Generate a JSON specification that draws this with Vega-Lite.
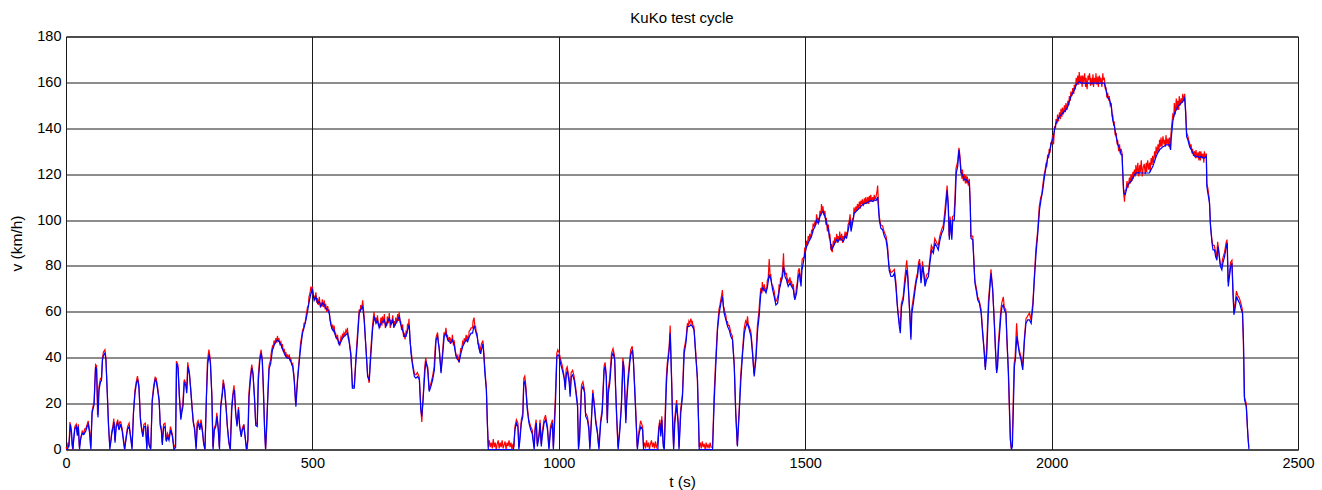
{
"$schema": "https://vega.github.io/schema/vega-lite/v6.json",
"width": 1232, "height": 413,
"autosize": {"type": "none"},
"padding": {"left": 66, "top": 36.5, "right": 24, "bottom": 40.5},
"background": "white",
"config": {"view": {"stroke": "#000", "strokeWidth": 1}, "font": "Liberation Sans"},
"title": {"text": "KuKo test cycle", "fontSize": 15, "fontWeight": "normal", "color": "#000", "offset": 3, "font": "Liberation Sans"},
"datasets": {
"blue": [
{"t":0,"v":0},{"t":3,"v":0},{"t":6,"v":2},{"t":9,"v":11},{"t":11,"v":8},{"t":14,"v":0},{"t":16,"v":5},{"t":18,"v":9},{"t":21,"v":10},{"t":23,"v":6},{"t":25,"v":10},{"t":27.5,"v":0},{"t":30,"v":5},{"t":33,"v":7},{"t":36,"v":6.5},{"t":40,"v":8},{"t":43,"v":10},{"t":45,"v":11},{"t":48,"v":7},{"t":50.5,"v":0},{"t":53,"v":16},{"t":57,"v":19.5},{"t":60,"v":36},{"t":62,"v":35},{"t":65,"v":14},{"t":67,"v":26},{"t":70,"v":29.5},{"t":72,"v":30},{"t":74,"v":39},{"t":76,"v":41},{"t":79,"v":42},{"t":81,"v":39},{"t":84,"v":23},{"t":86.5,"v":10},{"t":89,"v":0},{"t":93,"v":7},{"t":95,"v":9},{"t":97.5,"v":12},{"t":99.5,"v":3},{"t":102,"v":10},{"t":105,"v":11.5},{"t":107.5,"v":8.5},{"t":111,"v":11},{"t":114,"v":8},{"t":117,"v":3},{"t":119,"v":0},{"t":122.5,"v":5.5},{"t":125,"v":9},{"t":128,"v":10},{"t":131,"v":5.5},{"t":134,"v":0},{"t":137,"v":16},{"t":140,"v":24.5},{"t":143,"v":29},{"t":145.5,"v":30.5},{"t":148,"v":27},{"t":151,"v":13},{"t":153.5,"v":8.5},{"t":156,"v":5.5},{"t":158.5,"v":10},{"t":161.5,"v":10},{"t":164,"v":0},{"t":166,"v":10},{"t":168.5,"v":2},{"t":172,"v":0},{"t":175,"v":21},{"t":178,"v":26.5},{"t":181,"v":30.5},{"t":183.5,"v":29.5},{"t":186,"v":26},{"t":189,"v":21},{"t":191.5,"v":10},{"t":193.5,"v":8.5},{"t":195.5,"v":2},{"t":198,"v":9.5},{"t":201,"v":10},{"t":203.5,"v":3.5},{"t":206.5,"v":5.5},{"t":209,"v":4},{"t":212.5,"v":8.5},{"t":216,"v":5.5},{"t":219,"v":0},{"t":222.5,"v":1},{"t":224.5,"v":37.5},{"t":227.5,"v":35.5},{"t":230,"v":23},{"t":233,"v":13},{"t":235,"v":16},{"t":237.5,"v":19},{"t":240,"v":29},{"t":243,"v":28},{"t":245,"v":24.5},{"t":247.5,"v":36},{"t":250.5,"v":33},{"t":253,"v":26},{"t":256,"v":17.5},{"t":258.5,"v":11.5},{"t":261,"v":8.5},{"t":264,"v":0},{"t":266.5,"v":10},{"t":268.5,"v":11.5},{"t":271.5,"v":8.5},{"t":274,"v":11.5},{"t":277,"v":7.5},{"t":279.5,"v":2.5},{"t":282,"v":0},{"t":285,"v":23},{"t":287.5,"v":37},{"t":290.5,"v":41.5},{"t":293,"v":37.5},{"t":296,"v":23},{"t":298.5,"v":0},{"t":301,"v":8.5},{"t":304,"v":10},{"t":306.5,"v":14.5},{"t":309,"v":8.5},{"t":311.5,"v":0},{"t":314,"v":18.5},{"t":317,"v":23.5},{"t":319.5,"v":29},{"t":322,"v":25.5},{"t":325,"v":17.5},{"t":327.5,"v":10},{"t":331,"v":2.5},{"t":333.5,"v":0},{"t":336.5,"v":17.5},{"t":339,"v":24},{"t":342,"v":26},{"t":344.5,"v":15.5},{"t":347,"v":10},{"t":350,"v":17.5},{"t":352.5,"v":10},{"t":355.5,"v":5.5},{"t":358,"v":8.5},{"t":361,"v":10},{"t":363.5,"v":5.5},{"t":366,"v":0},{"t":369,"v":4},{"t":371.5,"v":23},{"t":374.5,"v":31},{"t":377,"v":35.5},{"t":379.5,"v":33},{"t":382.5,"v":23},{"t":385,"v":10.5},{"t":388,"v":10},{"t":390.5,"v":30.5},{"t":393.5,"v":39},{"t":396,"v":42},{"t":398.5,"v":38.5},{"t":400.5,"v":27.5},{"t":403,"v":8.5},{"t":405,"v":0},
{"t":409,"v":20},{"t":412,"v":35},{"t":415.5,"v":37.6},{"t":419,"v":43.5},{"t":422.5,"v":45.6},{"t":426,"v":47},{"t":429,"v":47.8},{"t":432.5,"v":47},{"t":436,"v":45.6},{"t":439,"v":44},{"t":443,"v":41.8},{"t":446,"v":40.5},{"t":449.5,"v":39.8},{"t":453,"v":39.8},{"t":456,"v":38.4},{"t":460,"v":36.2},{"t":463,"v":30.4},{"t":466.5,"v":18.7},{"t":470,"v":30.4},{"t":473,"v":37.6},{"t":476.5,"v":45},{"t":480,"v":50.7},{"t":483,"v":53},{"t":487,"v":56.5},{"t":490,"v":60},{"t":493.5,"v":64.5},{"t":497,"v":68},{"t":500,"v":69.6},{"t":503.5,"v":65},{"t":507,"v":66.7},{"t":510.5,"v":63.8},{"t":514,"v":64.5},{"t":517,"v":62.3},{"t":520.5,"v":63.8},{"t":524,"v":63},{"t":527,"v":61.6},{"t":531,"v":60.9},{"t":534,"v":59.4},{"t":537.5,"v":54.3},{"t":541,"v":52},{"t":544,"v":52},{"t":547.5,"v":49},{"t":551,"v":48.3},{"t":554.5,"v":45.6},{"t":558,"v":47},{"t":561,"v":48.5},{"t":564.5,"v":49.3},{"t":568,"v":50},{"t":571.5,"v":50.7},{"t":574.5,"v":47},{"t":578,"v":41},{"t":581.5,"v":26.7},{"t":585,"v":26.7},{"t":588,"v":37.6},{"t":591.5,"v":47.8},{"t":595,"v":59.4},{"t":598,"v":60.9},{"t":602,"v":62.3},{"t":605,"v":56.5},{"t":608.5,"v":45},{"t":612,"v":31.8},{"t":615.5,"v":30.4},{"t":618.5,"v":40.5},{"t":622,"v":52},{"t":625.5,"v":58},{"t":629,"v":55},{"t":632,"v":56.5},{"t":635.5,"v":53},{"t":639,"v":55},{"t":642.5,"v":55.7},{"t":646,"v":56.5},{"t":649,"v":53.6},{"t":652.5,"v":55.7},{"t":656,"v":57.2},{"t":659.5,"v":54.3},{"t":663,"v":56.5},{"t":666,"v":53.6},{"t":669.5,"v":55},{"t":673,"v":56.5},{"t":676.5,"v":58},{"t":679.5,"v":54.3},{"t":683,"v":52},{"t":686.5,"v":49.3},{"t":690,"v":49.3},{"t":693,"v":52},{"t":696.5,"v":54.3},{"t":700,"v":42},{"t":703.5,"v":36.2},{"t":707,"v":31.8},{"t":710,"v":31.1},{"t":713.5,"v":31.8},{"t":717,"v":30.4},{"t":720,"v":17.3},{"t":722,"v":14.4},{"t":725,"v":23},{"t":728.5,"v":34.7},{"t":730.5,"v":38.4},{"t":734,"v":34.7},{"t":737,"v":25.3},{"t":740.5,"v":27.5},{"t":744,"v":30.4},{"t":747.5,"v":34.7},{"t":751,"v":47.8},{"t":754,"v":49.3},{"t":757.5,"v":43.5},{"t":761,"v":33.3},{"t":764,"v":40.5},{"t":767.5,"v":49.3},{"t":771,"v":50.7},{"t":774.5,"v":47.8},{"t":778,"v":47},{"t":781,"v":46.4},{"t":784.5,"v":47.8},{"t":788,"v":45},{"t":791.5,"v":40.5},{"t":795,"v":39.1},{"t":798,"v":38.3},{"t":801.5,"v":42},{"t":805,"v":44.9},{"t":808.5,"v":46.4},{"t":812,"v":47.8},{"t":815,"v":47},{"t":818.5,"v":49.3},{"t":822,"v":50.7},{"t":825,"v":50.7},
{"t":828,"v":54},{"t":831.5,"v":51.5},{"t":834.5,"v":49},{"t":838,"v":44},{"t":841.5,"v":41.7},{"t":843.5,"v":44},{"t":846,"v":46},{"t":848,"v":40.5},{"t":850,"v":33.3},{"t":853,"v":26},{"t":855,"v":11.5},{"t":857,"v":0},{"t":880,"v":0},{"t":908,"v":0},{"t":911,"v":8.6},{"t":914,"v":11.5},{"t":917,"v":10},{"t":919,"v":0},{"t":921,"v":4},{"t":924,"v":11.5},{"t":927,"v":14.4},{"t":929,"v":29},{"t":931,"v":29.6},{"t":933,"v":26.5},{"t":936,"v":17.3},{"t":939.5,"v":11.5},{"t":943,"v":8.6},{"t":946,"v":7},{"t":950,"v":0},{"t":952,"v":8.6},{"t":954.5,"v":11.5},{"t":956.5,"v":1.3},{"t":960,"v":5.7},{"t":962,"v":11.5},{"t":964.5,"v":1.3},{"t":966.5,"v":5.7},{"t":970,"v":11.5},{"t":973.5,"v":13},{"t":977,"v":8.6},{"t":980,"v":0},{"t":983.5,"v":8.6},{"t":987,"v":11.5},{"t":989,"v":0},{"t":991.5,"v":11.5},{"t":993.5,"v":21.6},{"t":996,"v":40.5},{"t":998.5,"v":41.3},{"t":1001,"v":40.5},{"t":1004,"v":37},{"t":1007,"v":34.7},{"t":1011,"v":31},{"t":1013,"v":26},{"t":1015.5,"v":33.3},{"t":1017.5,"v":34},{"t":1021,"v":29.4},{"t":1023,"v":23},{"t":1025.5,"v":31.8},{"t":1028,"v":32.5},{"t":1031,"v":30.4},{"t":1034,"v":26},{"t":1038,"v":18.7},{"t":1040,"v":0},{"t":1042.5,"v":5.7},{"t":1046,"v":26},{"t":1049,"v":27.5},{"t":1052.5,"v":24.6},{"t":1054.5,"v":14.4},{"t":1058,"v":13},{"t":1061,"v":8.6},{"t":1063,"v":0},{"t":1066,"v":11.5},{"t":1069,"v":24.6},{"t":1071.5,"v":20.2},{"t":1075,"v":11.5},{"t":1078.5,"v":7},{"t":1081.5,"v":0},{"t":1085,"v":11.5},{"t":1088,"v":15.8},{"t":1092,"v":34.7},{"t":1094,"v":36.2},{"t":1096.5,"v":31.8},{"t":1098.5,"v":11.5},{"t":1100.5,"v":24.6},{"t":1103.5,"v":29},{"t":1105.5,"v":34.7},{"t":1107.5,"v":40.5},{"t":1110,"v":42},{"t":1113.5,"v":39.1},{"t":1115.5,"v":26},{"t":1117.5,"v":14.4},{"t":1120.5,"v":0},{"t":1124,"v":8.6},{"t":1127,"v":18.7},{"t":1130.5,"v":38.4},{"t":1132.5,"v":34.7},{"t":1136,"v":11.5},{"t":1138,"v":21.6},{"t":1140.5,"v":29},{"t":1144,"v":37.6},{"t":1146,"v":41.3},{"t":1149.5,"v":43.5},{"t":1151.5,"v":38.4},{"t":1154,"v":26},{"t":1157,"v":11.5},{"t":1159.5,"v":0},{"t":1163,"v":7},{"t":1166.5,"v":10},{"t":1170,"v":8.6},{"t":1172,"v":0},{"t":1190,"v":0},{"t":1201,"v":0},{"t":1203,"v":8.6},{"t":1205,"v":11.5},{"t":1207,"v":5.7},{"t":1209,"v":13},{"t":1212,"v":1.3},{"t":1214,"v":0},{"t":1216.5,"v":15.8},{"t":1218.5,"v":29},{"t":1220.5,"v":36.2},{"t":1224,"v":43.5},{"t":1226,"v":50.7},{"t":1229,"v":29},{"t":1231,"v":11.5},{"t":1233,"v":0},{"t":1235.5,"v":11.5},{"t":1239,"v":20},{"t":1242,"v":11.5},{"t":1244,"v":0},
{"t":1247.5,"v":15.8},{"t":1251,"v":23},{"t":1254.5,"v":42},{"t":1258,"v":46.4},{"t":1261,"v":53.6},{"t":1264.5,"v":53.6},{"t":1268,"v":54.3},{"t":1271.5,"v":53.6},{"t":1274.5,"v":52},{"t":1278,"v":40.5},{"t":1281.5,"v":30.4},{"t":1285,"v":0},{"t":1300,"v":0},{"t":1312,"v":0},{"t":1315.5,"v":21.6},{"t":1318.5,"v":36.2},{"t":1322,"v":52},{"t":1325.5,"v":59.4},{"t":1329,"v":63.8},{"t":1332,"v":66.7},{"t":1335.5,"v":59.4},{"t":1339,"v":56.5},{"t":1342.5,"v":53.6},{"t":1346,"v":52},{"t":1349,"v":49.3},{"t":1352.5,"v":47.8},{"t":1356,"v":36.2},{"t":1359,"v":15.8},{"t":1362.5,"v":1.3},{"t":1366,"v":15.8},{"t":1369.5,"v":30.4},{"t":1373,"v":42},{"t":1376.5,"v":50.7},{"t":1379.5,"v":53.6},{"t":1383,"v":55},{"t":1386.5,"v":52.2},{"t":1390,"v":49.3},{"t":1393,"v":42},{"t":1396.5,"v":31.8},{"t":1400,"v":39.1},{"t":1403.5,"v":52.2},{"t":1406.5,"v":58},{"t":1410,"v":68.3},{"t":1413.5,"v":70.4},{"t":1417,"v":69.6},{"t":1420.5,"v":68.3},{"t":1423.5,"v":71.1},{"t":1427,"v":76.2},{"t":1430.5,"v":74},{"t":1434,"v":69.6},{"t":1437,"v":66.7},{"t":1440.5,"v":63},{"t":1444,"v":63.8},{"t":1447.5,"v":69.6},{"t":1450.5,"v":72.5},{"t":1454,"v":75.4},{"t":1456,"v":79.8},{"t":1459,"v":75.4},{"t":1462,"v":74},{"t":1465.5,"v":71.1},{"t":1469,"v":72.5},{"t":1472.5,"v":71.1},{"t":1476,"v":69.6},{"t":1479,"v":65.2},{"t":1482.5,"v":68.1},{"t":1486,"v":75.4},{"t":1488.5,"v":76.9},{"t":1491.5,"v":71.1},{"t":1493.5,"v":78.3},{"t":1496,"v":81.2},{"t":1499.5,"v":85.6},{"t":1503,"v":88.5},{"t":1506,"v":90},{"t":1509.5,"v":91.4},{"t":1513,"v":93},{"t":1516.5,"v":95.8},{"t":1520,"v":97.2},{"t":1523,"v":100},{"t":1526.5,"v":98.5},{"t":1530,"v":101.5},{"t":1533,"v":103},{"t":1536.5,"v":103.7},{"t":1540,"v":101.5},{"t":1543.5,"v":98.5},{"t":1547,"v":95.8},{"t":1550.5,"v":91.4},{"t":1553.5,"v":87},{"t":1557,"v":88.5},{"t":1560.5,"v":90},{"t":1564,"v":91.4},{"t":1567,"v":90.7},{"t":1570.5,"v":92.2},{"t":1574,"v":91.4},{"t":1577.5,"v":90.7},{"t":1581,"v":92.9},{"t":1584,"v":92.2},{"t":1587.5,"v":95.8},{"t":1591,"v":100},{"t":1593,"v":95},{"t":1596,"v":98.5},{"t":1599.5,"v":103},{"t":1603,"v":103.7},{"t":1606.5,"v":104.5},{"t":1610,"v":105.2},{"t":1613,"v":106},{"t":1616.5,"v":106.7},{"t":1620,"v":107.1},{"t":1623.5,"v":107.4},{"t":1627,"v":107.7},{"t":1630,"v":108.1},{"t":1633.5,"v":108.5},{"t":1637,"v":108.1},{"t":1640.5,"v":108.8},{"t":1644,"v":108.5},{"t":1647,"v":110},
{"t":1650.5,"v":100},{"t":1653.5,"v":96.5},{"t":1657,"v":95.8},{"t":1660.5,"v":93},{"t":1664,"v":91.4},{"t":1667,"v":87},{"t":1670.5,"v":78},{"t":1674,"v":75.4},{"t":1677.5,"v":75.4},{"t":1681,"v":76.9},{"t":1684,"v":71.1},{"t":1687.5,"v":61},{"t":1691,"v":53.6},{"t":1693,"v":50.7},{"t":1695.5,"v":62.3},{"t":1699,"v":65.2},{"t":1702.5,"v":72.5},{"t":1706,"v":78.3},{"t":1708,"v":75.4},{"t":1711.5,"v":62.3},{"t":1713.5,"v":53.6},{"t":1714.5,"v":47.8},{"t":1716.5,"v":59.4},{"t":1719.5,"v":63.8},{"t":1723,"v":69.6},{"t":1726,"v":74},{"t":1728,"v":75.4},{"t":1730,"v":79.8},{"t":1732.5,"v":81.2},{"t":1735,"v":72.5},{"t":1738.5,"v":79.8},{"t":1740.5,"v":76.9},{"t":1743,"v":71.1},{"t":1746.5,"v":74},{"t":1750,"v":75.4},{"t":1753,"v":81.2},{"t":1756.5,"v":87},{"t":1760,"v":85.6},{"t":1763.5,"v":89.9},{"t":1767,"v":88.5},{"t":1770,"v":87},{"t":1773.5,"v":91.4},{"t":1777,"v":94.3},{"t":1780.5,"v":95.8},{"t":1783.5,"v":101.5},{"t":1785.5,"v":106},{"t":1788,"v":113},{"t":1790.5,"v":106},{"t":1792.5,"v":91.4},{"t":1794.5,"v":100},{"t":1797.5,"v":91.4},{"t":1799.5,"v":100},{"t":1802.5,"v":100},{"t":1804.5,"v":108.8},{"t":1806.5,"v":120.5},{"t":1809.5,"v":123.4},{"t":1812,"v":130.6},{"t":1814,"v":126.3},{"t":1816,"v":120.5},{"t":1819.5,"v":119.7},{"t":1823,"v":117.6},{"t":1826.5,"v":117.6},{"t":1829.5,"v":116.9},{"t":1833,"v":116.2},{"t":1835,"v":106},{"t":1836.5,"v":92},{"t":1840,"v":91.4},{"t":1842,"v":82.7},{"t":1844.5,"v":72.5},{"t":1848,"v":68.1},{"t":1850,"v":65.2},{"t":1853.5,"v":63.8},{"t":1857,"v":59.4},{"t":1860,"v":50.7},{"t":1863.5,"v":42},{"t":1865.5,"v":34.7},{"t":1868.5,"v":42},{"t":1870.5,"v":53.6},{"t":1872.5,"v":63.8},{"t":1875,"v":71.1},{"t":1877,"v":76.8},{"t":1880.5,"v":69.6},{"t":1884,"v":53.6},{"t":1886.5,"v":42},{"t":1888.5,"v":33.3},{"t":1890.5,"v":36.2},{"t":1892.5,"v":44.9},{"t":1895.5,"v":53.6},{"t":1897.5,"v":59.4},{"t":1899.5,"v":62.3},{"t":1902,"v":63},{"t":1904,"v":60.9},{"t":1907.5,"v":59.4},{"t":1909.5,"v":47.8},{"t":1912.5,"v":33.3},{"t":1914.5,"v":18.7},{"t":1916.5,"v":4.2},{"t":1918.5,"v":0},{"t":1920.5,"v":1.3},{"t":1922.5,"v":18.7},{"t":1924.5,"v":36.2},{"t":1926.5,"v":39.1},{"t":1929.5,"v":49.3},{"t":1931.5,"v":46.4},{"t":1934.5,"v":42},{"t":1938,"v":39.1},{"t":1941.5,"v":34.7},{"t":1945,"v":47.8},{"t":1948,"v":55},{"t":1951.5,"v":56.5},{"t":1955,"v":56.5},{"t":1958.5,"v":55},{"t":1962,"v":62.3},{"t":1965,"v":74},{"t":1968.5,"v":85.6},{"t":1972,"v":94.3},{"t":1975.5,"v":104.5},{"t":1978.5,"v":108.8},{"t":1982,"v":113},{"t":1985.5,"v":118.8},{"t":1989,"v":123.4},{"t":1992,"v":127},{"t":1995.5,"v":129.2},{"t":1999,"v":133.5},
{"t":2002.5,"v":135.3},{"t":2006,"v":139.3},{"t":2009,"v":142.3},{"t":2012.5,"v":143.7},{"t":2016,"v":145.2},{"t":2019.5,"v":145.9},{"t":2022.5,"v":146.6},{"t":2026,"v":147.4},{"t":2029.5,"v":148.1},{"t":2033,"v":149.5},{"t":2036,"v":151.7},{"t":2039.5,"v":154},{"t":2043,"v":155.4},{"t":2046.5,"v":156.8},{"t":2050,"v":159},{"t":2053,"v":159.7},{"t":2056.5,"v":160.4},{"t":2060,"v":159.7},{"t":2070,"v":159.7},{"t":2080,"v":159.7},{"t":2090,"v":159.7},{"t":2100,"v":159.7},{"t":2107,"v":159.7},{"t":2110.5,"v":156.8},{"t":2114,"v":153.2},{"t":2117.5,"v":152.5},{"t":2121,"v":149.5},{"t":2124,"v":143.7},{"t":2127.5,"v":140.8},{"t":2131,"v":136.4},{"t":2134.5,"v":132.8},{"t":2138,"v":131.3},{"t":2141,"v":128.5},{"t":2143,"v":128.5},{"t":2144.5,"v":120.5},{"t":2146.5,"v":111.8},{"t":2149.5,"v":111.1},{"t":2153.5,"v":114.7},{"t":2158,"v":116.2},{"t":2161.5,"v":116.9},{"t":2165,"v":118.3},{"t":2168,"v":119.7},{"t":2171.5,"v":120.5},{"t":2175,"v":120.7},{"t":2182,"v":120.5},{"t":2188.5,"v":120.5},{"t":2195,"v":120.5},{"t":2198.5,"v":120.5},{"t":2202,"v":122},{"t":2205.5,"v":123.4},{"t":2209,"v":125.6},{"t":2212,"v":127.7},{"t":2215.5,"v":129.2},{"t":2219,"v":130.6},{"t":2222.5,"v":131.3},{"t":2226,"v":132},{"t":2229,"v":132.3},{"t":2232.5,"v":132.8},{"t":2236,"v":132.8},{"t":2239.5,"v":132.8},{"t":2241.5,"v":130.6},{"t":2242.5,"v":135},{"t":2246,"v":143},{"t":2249.5,"v":146.6},{"t":2253,"v":148.1},{"t":2256,"v":149.5},{"t":2259.5,"v":150.2},{"t":2263,"v":151},{"t":2266.5,"v":151.7},{"t":2270,"v":153.2},{"t":2272,"v":146.6},{"t":2274,"v":136.4},{"t":2276.5,"v":135},{"t":2280,"v":132},{"t":2283.5,"v":130.6},{"t":2286.5,"v":129.2},{"t":2290,"v":127.8},{"t":2293.5,"v":127.8},{"t":2297,"v":127.8},{"t":2300,"v":127.1},{"t":2303.5,"v":127.8},{"t":2307,"v":127.1},{"t":2310.5,"v":127.1},{"t":2314,"v":127.8},{"t":2315,"v":114.7},{"t":2317,"v":111.8},{"t":2320.5,"v":107.4},{"t":2322.5,"v":97.2},{"t":2325.5,"v":90},{"t":2327.5,"v":87},{"t":2330.5,"v":87},{"t":2333,"v":84},{"t":2335.5,"v":82.5},{"t":2337.5,"v":88.5},{"t":2339.5,"v":85.6},{"t":2342.5,"v":79.8},{"t":2345.5,"v":78.3},{"t":2347.5,"v":81.2},{"t":2351,"v":84.1},{"t":2354.5,"v":88.5},{"t":2356.5,"v":90},{"t":2358.5,"v":71.1},{"t":2361,"v":75.5},{"t":2363.5,"v":79.8},{"t":2366,"v":81.2},{"t":2368,"v":68.1},{"t":2370,"v":58.7},{"t":2372.5,"v":61.6},{"t":2375.5,"v":66.7},{"t":2378,"v":65.2},{"t":2381.5,"v":63.8},{"t":2385,"v":61},{"t":2387.5,"v":59.4},{"t":2389.5,"v":46.4},{"t":2391.5,"v":21.7},{"t":2395,"v":18.7},{"t":2398.5,"v":5.7},{"t":2400.5,"v":0}
],
"red": [
{"t":0,"v":1},{"t":2,"v":0},{"t":4,"v":3},{"t":6,"v":1},{"t":8,"v":12},{"t":10,"v":9},{"t":12,"v":2},{"t":14,"v":0},{"t":16,"v":6},{"t":18,"v":10},{"t":21,"v":11},{"t":23,"v":7},{"t":25,"v":11},{"t":27,"v":1},{"t":29,"v":4},{"t":31,"v":6},{"t":33,"v":8},{"t":36,"v":7},{"t":38,"v":9},{"t":40,"v":9},{"t":43,"v":11},{"t":45,"v":12.5},{"t":48,"v":8},{"t":50,"v":1},{"t":53,"v":17},{"t":57,"v":21},{"t":60,"v":37},{"t":62,"v":36.5},{"t":64,"v":15},{"t":67,"v":27.5},{"t":70,"v":31},{"t":72,"v":31},{"t":74,"v":40},{"t":76,"v":42.5},{"t":79,"v":43.5},{"t":81,"v":40},{"t":84,"v":24},{"t":86,"v":11},{"t":89,"v":1},{"t":91,"v":4},{"t":93,"v":8},{"t":95,"v":10},{"t":97,"v":13.5},{"t":99,"v":4},{"t":102,"v":11},{"t":105,"v":13},{"t":107,"v":9},{"t":109,"v":12},{"t":111,"v":12},{"t":114,"v":9},{"t":117,"v":4},{"t":119,"v":0},{"t":121,"v":4},{"t":123,"v":7},{"t":125,"v":10},{"t":128,"v":11.5},{"t":131,"v":6},{"t":134,"v":1},{"t":137,"v":17},{"t":140,"v":26},{"t":143,"v":30},{"t":145,"v":32},{"t":148,"v":28},{"t":151,"v":14},{"t":153,"v":10},{"t":156,"v":6.5},{"t":158,"v":11},{"t":161,"v":11.5},{"t":164,"v":1},{"t":166,"v":11},{"t":168,"v":3},{"t":170,"v":1},{"t":172,"v":1},{"t":175,"v":22},{"t":178,"v":28},{"t":181,"v":31.5},{"t":183,"v":31},{"t":186,"v":27},{"t":189,"v":22},{"t":191,"v":11},{"t":193,"v":10},{"t":195,"v":3},{"t":198,"v":11},{"t":201,"v":11.5},{"t":203,"v":4},{"t":206,"v":7},{"t":209,"v":5},{"t":212,"v":10},{"t":216,"v":6.5},{"t":219,"v":1},{"t":222,"v":2},{"t":224,"v":38.5},{"t":227,"v":37},{"t":230,"v":24},{"t":233,"v":14},{"t":235,"v":17.5},{"t":237,"v":20},{"t":240,"v":30.5},{"t":243,"v":29},{"t":245,"v":26},{"t":247,"v":38},{"t":250,"v":34},{"t":253,"v":27},{"t":256,"v":18.5},{"t":258,"v":12.5},{"t":261,"v":9.5},{"t":264,"v":1},{"t":266,"v":11.5},{"t":268,"v":12.5},{"t":271,"v":9.5},{"t":274,"v":13},{"t":277,"v":8.5},{"t":279,"v":3},{"t":282,"v":0},{"t":285,"v":24},{"t":287,"v":38.5},{"t":290,"v":43.5},{"t":293,"v":39},{"t":296,"v":24},{"t":298,"v":1},{"t":301,"v":9.5},{"t":304,"v":11},{"t":306,"v":16},{"t":309,"v":9.5},{"t":311,"v":1},{"t":314,"v":19.5},{"t":317,"v":25},{"t":319,"v":30.5},{"t":322,"v":26.5},{"t":325,"v":18.5},{"t":327,"v":11},{"t":330,"v":3.5},{"t":333,"v":0},{"t":336,"v":18.5},{"t":339,"v":25},{"t":341,"v":28},{"t":344,"v":16.5},{"t":347,"v":11},{"t":350,"v":18.5},{"t":352,"v":11},{"t":355,"v":6.5},{"t":358,"v":9.5},{"t":361,"v":11},{"t":363,"v":6.5},{"t":366,"v":1},{"t":368,"v":0},{"t":369,"v":4.5},{"t":371,"v":24},{"t":374,"v":32},{"t":377,"v":37},{"t":379,"v":34},{"t":382,"v":24},{"t":385,"v":11.5},{"t":388,"v":11},{"t":390,"v":31.5},{"t":393,"v":40},{"t":396,"v":43.5},{"t":398,"v":39.5},{"t":400,"v":28.5},{"t":403,"v":9.5},{"t":405,"v":0},
{"t":407,"v":8},{"t":409,"v":21},{"t":412,"v":36.5},{"t":415,"v":39},{"t":417,"v":43},{"t":419,"v":45},{"t":421,"v":44},{"t":422,"v":47.5},{"t":424,"v":46},{"t":426,"v":48.5},{"t":428,"v":46.5},{"t":429,"v":49.5},{"t":431,"v":47},{"t":432,"v":48.5},{"t":434,"v":46},{"t":436,"v":47},{"t":438,"v":44},{"t":439,"v":46},{"t":441,"v":43},{"t":443,"v":43.5},{"t":445,"v":41},{"t":446,"v":42.5},{"t":448,"v":40},{"t":449,"v":41.5},{"t":451,"v":39.5},{"t":453,"v":41.5},{"t":455,"v":38.5},{"t":456,"v":40},{"t":458,"v":37},{"t":460,"v":37.5},{"t":463,"v":31.5},{"t":466,"v":19.5},{"t":470,"v":31.5},{"t":473,"v":39},{"t":476,"v":46.5},{"t":478,"v":49},{"t":480,"v":52},{"t":482,"v":53},{"t":483,"v":55},{"t":485,"v":55},{"t":487,"v":58},{"t":490,"v":62},{"t":492,"v":63},{"t":493,"v":66.5},{"t":495,"v":68},{"t":497,"v":71},{"t":499,"v":68},{"t":500,"v":71},{"t":502,"v":67},{"t":503,"v":67},{"t":505,"v":65},{"t":507,"v":68.5},{"t":509,"v":64},{"t":510,"v":66},{"t":512,"v":63},{"t":514,"v":66.5},{"t":516,"v":62},{"t":517,"v":64},{"t":519,"v":62.5},{"t":520,"v":65.5},{"t":522,"v":62},{"t":524,"v":65},{"t":526,"v":61},{"t":527,"v":63.5},{"t":529,"v":60},{"t":531,"v":62.5},{"t":533,"v":60},{"t":534,"v":61},{"t":536,"v":56},{"t":537,"v":56},{"t":539,"v":53},{"t":541,"v":54},{"t":543,"v":51},{"t":544,"v":54},{"t":546,"v":50},{"t":547,"v":51},{"t":549,"v":48},{"t":551,"v":50},{"t":553,"v":46},{"t":554,"v":47},{"t":556,"v":46},{"t":558,"v":49},{"t":560,"v":48},{"t":561,"v":50.5},{"t":563,"v":49},{"t":564,"v":51},{"t":566,"v":50},{"t":568,"v":52},{"t":570,"v":51},{"t":571,"v":53},{"t":573,"v":48},{"t":574,"v":48.5},{"t":578,"v":42},{"t":581,"v":27},{"t":585,"v":28},{"t":588,"v":39},{"t":591,"v":49},{"t":593,"v":55},{"t":595,"v":61},{"t":597,"v":60},{"t":598,"v":63},{"t":600,"v":61},{"t":602,"v":65},{"t":604,"v":60},{"t":605,"v":58},{"t":608,"v":46},{"t":612,"v":33},{"t":615,"v":29},{"t":618,"v":42},{"t":622,"v":54},{"t":624,"v":58},{"t":625,"v":60},{"t":627,"v":56},{"t":629,"v":57.5},{"t":631,"v":55},{"t":632,"v":58.5},{"t":634,"v":54},{"t":635,"v":55},{"t":637,"v":53},{"t":639,"v":57.5},{"t":641,"v":54},{"t":642,"v":58},{"t":644,"v":55},{"t":646,"v":59},{"t":648,"v":53},{"t":649,"v":55.5},{"t":651,"v":54},{"t":652,"v":58},{"t":654,"v":55},{"t":656,"v":59.5},{"t":658,"v":53},{"t":659,"v":56.5},{"t":661,"v":55},{"t":663,"v":58.5},{"t":665,"v":53},{"t":666,"v":56},{"t":668,"v":54},{"t":669,"v":57.5},{"t":671,"v":55},{"t":673,"v":59},{"t":675,"v":56},{"t":676,"v":60},{"t":678,"v":55},{"t":679,"v":56},{"t":681,"v":52},{"t":683,"v":54.5},{"t":685,"v":49},{"t":686,"v":51},{"t":688,"v":48},{"t":690,"v":51.5},{"t":692,"v":51},{"t":693,"v":54.5},{"t":695,"v":54},{"t":696,"v":57},{"t":698,"v":47},{"t":700,"v":44},{"t":703,"v":38},{"t":707,"v":33},{"t":710,"v":32.5},{"t":713,"v":33.5},{"t":717,"v":31.5},{"t":720,"v":18},{"t":722,"v":12},{"t":725,"v":24},{"t":728,"v":36},{"t":730,"v":40},{"t":732,"v":37},{"t":734,"v":36},{"t":737,"v":26},{"t":740,"v":28.5},{"t":744,"v":32},{"t":747,"v":36},{"t":749,"v":44},{"t":751,"v":49},{"t":754,"v":51},{"t":756,"v":46},{"t":757,"v":45},{"t":761,"v":34},{"t":764,"v":42},{"t":766,"v":48},{"t":767,"v":51},{"t":769,"v":50},{"t":771,"v":53},{"t":773,"v":49},{"t":774,"v":50},{"t":776,"v":47},{"t":778,"v":49},{"t":780,"v":46},{"t":781,"v":48},{"t":783,"v":47},{"t":784,"v":50},{"t":786,"v":46},{"t":788,"v":47},{"t":790,"v":43},{"t":791,"v":42},{"t":793,"v":40},{"t":795,"v":41},{"t":797,"v":38},{"t":798,"v":40},{"t":800,"v":42},{"t":801,"v":44},{"t":803,"v":44},{"t":805,"v":47},{"t":807,"v":46},{"t":808,"v":48.5},{"t":810,"v":47},{"t":812,"v":50},{"t":814,"v":47},{"t":815,"v":49},{"t":817,"v":48},{"t":818,"v":51.5},{"t":820,"v":52},{"t":822,"v":53},{"t":825,"v":53},
{"t":826,"v":56},{"t":828,"v":57.5},{"t":830,"v":53},{"t":831,"v":54},{"t":833,"v":50},{"t":834,"v":51},{"t":836,"v":46},{"t":838,"v":46},{"t":840,"v":42},{"t":841,"v":44},{"t":843,"v":46},{"t":846,"v":47.5},{"t":848,"v":42},{"t":850,"v":35},{"t":853,"v":27},{"t":855,"v":12},{"t":857,"v":1},{"t":859,"v":4},{"t":861,"v":1},{"t":863,"v":3},{"t":865,"v":0.5},{"t":867,"v":4.5},{"t":869,"v":1},{"t":871,"v":3},{"t":873,"v":0},{"t":875,"v":2.5},{"t":877,"v":4},{"t":879,"v":0.5},{"t":881,"v":3},{"t":883,"v":1},{"t":885,"v":4},{"t":887,"v":0.5},{"t":889,"v":2},{"t":891,"v":3.5},{"t":893,"v":0},{"t":895,"v":3},{"t":897,"v":1.5},{"t":899,"v":4},{"t":901,"v":1},{"t":903,"v":3},{"t":905,"v":0},{"t":907,"v":2.5},{"t":909,"v":1},{"t":911,"v":10},{"t":914,"v":13},{"t":917,"v":11.5},{"t":919,"v":1},{"t":921,"v":5.5},{"t":924,"v":13},{"t":927,"v":16},{"t":929,"v":31},{"t":931,"v":32},{"t":933,"v":28},{"t":936,"v":19},{"t":939,"v":13},{"t":943,"v":10},{"t":946,"v":8.5},{"t":950,"v":1},{"t":952,"v":10},{"t":954,"v":13},{"t":956,"v":2.5},{"t":960,"v":7},{"t":962,"v":13},{"t":964,"v":2.5},{"t":966,"v":7},{"t":970,"v":13},{"t":973,"v":15},{"t":977,"v":10},{"t":980,"v":1},{"t":983,"v":10},{"t":987,"v":13},{"t":989,"v":1},{"t":991,"v":13},{"t":993,"v":23},{"t":996,"v":42},{"t":998,"v":43.5},{"t":1001,"v":42},{"t":1004,"v":39},{"t":1007,"v":36.5},{"t":1010,"v":33},{"t":1013,"v":27.5},{"t":1015,"v":35},{"t":1017,"v":36},{"t":1021,"v":31},{"t":1023,"v":24.5},{"t":1025,"v":33.5},{"t":1028,"v":34.5},{"t":1031,"v":32},{"t":1034,"v":27.5},{"t":1038,"v":20},{"t":1040,"v":1},{"t":1042,"v":7},{"t":1046,"v":28},{"t":1049,"v":29.5},{"t":1052,"v":26},{"t":1054,"v":16},{"t":1058,"v":14.5},{"t":1061,"v":10},{"t":1063,"v":1},{"t":1066,"v":13},{"t":1069,"v":26},{"t":1071,"v":22},{"t":1075,"v":13},{"t":1078,"v":8.5},{"t":1081,"v":1},{"t":1085,"v":13},{"t":1088,"v":17.5},{"t":1092,"v":36.5},{"t":1094,"v":38},{"t":1096,"v":33},{"t":1098,"v":13},{"t":1100,"v":26},{"t":1103,"v":30.5},{"t":1105,"v":36.5},{"t":1107,"v":42},{"t":1110,"v":44},{"t":1113,"v":41},{"t":1115,"v":27.5},{"t":1117,"v":16},{"t":1120,"v":1},{"t":1124,"v":10},{"t":1127,"v":20},{"t":1130,"v":40},{"t":1132,"v":36.5},{"t":1136,"v":13},{"t":1138,"v":23},{"t":1140,"v":30.5},{"t":1144,"v":39.5},{"t":1146,"v":43.5},{"t":1149,"v":45},{"t":1151,"v":40},{"t":1154,"v":27.5},{"t":1157,"v":13},{"t":1159,"v":1},{"t":1163,"v":8.5},{"t":1166,"v":12.5},{"t":1170,"v":10},{"t":1172,"v":1},{"t":1174,"v":3},{"t":1176,"v":0.5},{"t":1178,"v":4},{"t":1180,"v":1},{"t":1182,"v":3},{"t":1184,"v":0},{"t":1186,"v":2.5},{"t":1188,"v":4},{"t":1190,"v":1},{"t":1192,"v":3},{"t":1194,"v":0.5},{"t":1196,"v":3.5},{"t":1198,"v":1},{"t":1200,"v":2},{"t":1203,"v":10},{"t":1205,"v":13},{"t":1207,"v":7},{"t":1209,"v":14.5},{"t":1212,"v":2.5},{"t":1214,"v":1},{"t":1216,"v":17},{"t":1218,"v":30.5},{"t":1220,"v":37.5},{"t":1224,"v":45},{"t":1226,"v":54},{"t":1229,"v":31},{"t":1231,"v":13},{"t":1233,"v":1},{"t":1235,"v":13},{"t":1239,"v":21.5},{"t":1242,"v":13},{"t":1244,"v":1},
{"t":1247,"v":17},{"t":1251,"v":24.5},{"t":1254,"v":43.5},{"t":1258,"v":48},{"t":1261,"v":55},{"t":1263,"v":54},{"t":1264,"v":56},{"t":1266,"v":55},{"t":1268,"v":57},{"t":1270,"v":55},{"t":1271,"v":55.5},{"t":1273,"v":53},{"t":1274,"v":54},{"t":1278,"v":42},{"t":1281,"v":31.5},{"t":1285,"v":1},{"t":1287,"v":3},{"t":1289,"v":0.5},{"t":1291,"v":3.5},{"t":1293,"v":1},{"t":1295,"v":2.5},{"t":1297,"v":0},{"t":1299,"v":3},{"t":1301,"v":1},{"t":1303,"v":2},{"t":1305,"v":0.5},{"t":1307,"v":3},{"t":1309,"v":1},{"t":1312,"v":1},{"t":1315,"v":23},{"t":1318,"v":37.5},{"t":1322,"v":53.5},{"t":1325,"v":61},{"t":1327,"v":63},{"t":1329,"v":65.5},{"t":1331,"v":68},{"t":1332,"v":69.5},{"t":1334,"v":62},{"t":1335,"v":62},{"t":1337,"v":60},{"t":1339,"v":58.5},{"t":1341,"v":55},{"t":1342,"v":56},{"t":1344,"v":54},{"t":1346,"v":54},{"t":1349,"v":51},{"t":1352,"v":49.5},{"t":1356,"v":37.5},{"t":1359,"v":17},{"t":1362,"v":2},{"t":1366,"v":17},{"t":1369,"v":32},{"t":1373,"v":43.5},{"t":1376,"v":52.5},{"t":1378,"v":55},{"t":1379,"v":56},{"t":1381,"v":55},{"t":1383,"v":58},{"t":1385,"v":53},{"t":1386,"v":54},{"t":1390,"v":51},{"t":1393,"v":43.5},{"t":1396,"v":33},{"t":1400,"v":41},{"t":1403,"v":54},{"t":1406,"v":60},{"t":1408,"v":66},{"t":1410,"v":70.5},{"t":1412,"v":68},{"t":1413,"v":73},{"t":1415,"v":69},{"t":1417,"v":72},{"t":1419,"v":69},{"t":1420,"v":70},{"t":1422,"v":70},{"t":1423,"v":73.5},{"t":1425,"v":75},{"t":1427,"v":83},{"t":1429,"v":75},{"t":1430,"v":76.5},{"t":1432,"v":72},{"t":1434,"v":71.5},{"t":1437,"v":69},{"t":1440,"v":64.5},{"t":1442,"v":65},{"t":1444,"v":66.5},{"t":1446,"v":68},{"t":1447,"v":72},{"t":1449,"v":71},{"t":1450,"v":74.5},{"t":1452,"v":74},{"t":1454,"v":78},{"t":1456,"v":85.5},{"t":1457,"v":79},{"t":1459,"v":77.5},{"t":1461,"v":76},{"t":1462,"v":77},{"t":1464,"v":72},{"t":1465,"v":74},{"t":1467,"v":73},{"t":1469,"v":75},{"t":1471,"v":72},{"t":1472,"v":73.5},{"t":1474,"v":71},{"t":1476,"v":72},{"t":1478,"v":66},{"t":1479,"v":67},{"t":1481,"v":68},{"t":1482,"v":70.5},{"t":1484,"v":73},{"t":1486,"v":78},{"t":1488,"v":79},{"t":1490,"v":73},{"t":1491,"v":73},{"t":1493,"v":80.5},{"t":1494,"v":83},{"t":1496,"v":83.5},{"t":1498,"v":84},{"t":1499,"v":88},{"t":1501,"v":87},{"t":1503,"v":91},{"t":1505,"v":89},{"t":1506,"v":93},{"t":1508,"v":91},{"t":1509,"v":94},{"t":1511,"v":92},{"t":1513,"v":95.5},{"t":1515,"v":95},{"t":1516,"v":98.5},{"t":1518,"v":97},{"t":1520,"v":99.5},{"t":1522,"v":98},{"t":1523,"v":102.5},{"t":1525,"v":100},{"t":1526,"v":101},{"t":1528,"v":99},{"t":1530,"v":104},{"t":1532,"v":102},{"t":1533,"v":107},{"t":1535,"v":103},{"t":1536,"v":106},{"t":1538,"v":102},{"t":1540,"v":104},{"t":1542,"v":98},{"t":1543,"v":101},{"t":1545,"v":95},{"t":1547,"v":98},{"t":1549,"v":92},{"t":1550,"v":94},{"t":1552,"v":87},{"t":1553,"v":89.5},{"t":1555,"v":86},{"t":1557,"v":91},{"t":1559,"v":89},{"t":1560,"v":92.5},{"t":1562,"v":90},{"t":1564,"v":94},{"t":1566,"v":90},{"t":1567,"v":93},{"t":1569,"v":91},{"t":1570,"v":95},{"t":1572,"v":91},{"t":1574,"v":94},{"t":1576,"v":90},{"t":1577,"v":93},{"t":1579,"v":92},{"t":1581,"v":95},{"t":1583,"v":92},{"t":1584,"v":94.5},{"t":1586,"v":95},{"t":1587,"v":98},{"t":1589,"v":99},{"t":1591,"v":102.5},{"t":1593,"v":97},{"t":1596,"v":100.5},{"t":1598,"v":101},{"t":1599,"v":105.5},{"t":1601,"v":103},{"t":1603,"v":106},{"t":1605,"v":104},{"t":1606,"v":107},{"t":1608,"v":105},{"t":1610,"v":108},{"t":1612,"v":105},{"t":1613,"v":108.5},{"t":1615,"v":107},{"t":1616,"v":109},{"t":1618,"v":106},{"t":1620,"v":109.5},{"t":1622,"v":107},{"t":1623,"v":110},{"t":1625,"v":107},{"t":1627,"v":110},{"t":1629,"v":107},{"t":1630,"v":110.5},{"t":1632,"v":108},{"t":1633,"v":111},{"t":1635,"v":108},{"t":1637,"v":110},{"t":1639,"v":108},{"t":1640,"v":111},{"t":1642,"v":109},{"t":1644,"v":110.5},{"t":1646,"v":113},{"t":1647,"v":115},{"t":1649,"v":106},{"t":1650,"v":102},
{"t":1653,"v":98},{"t":1657,"v":97.5},{"t":1660,"v":95},{"t":1664,"v":93},{"t":1667,"v":89},{"t":1670,"v":80},{"t":1674,"v":77},{"t":1677,"v":77.5},{"t":1681,"v":78.5},{"t":1684,"v":73},{"t":1687,"v":63},{"t":1691,"v":55},{"t":1693,"v":54},{"t":1695,"v":63.5},{"t":1699,"v":67},{"t":1702,"v":74.5},{"t":1706,"v":82.5},{"t":1708,"v":77},{"t":1711,"v":63.5},{"t":1713,"v":55},{"t":1714,"v":49},{"t":1716,"v":61},{"t":1719,"v":65.5},{"t":1723,"v":71.5},{"t":1726,"v":75.5},{"t":1728,"v":77},{"t":1730,"v":81.5},{"t":1732,"v":83},{"t":1735,"v":74},{"t":1738,"v":82},{"t":1740,"v":78},{"t":1743,"v":72.5},{"t":1746,"v":76},{"t":1750,"v":77},{"t":1753,"v":83},{"t":1756,"v":89},{"t":1760,"v":87},{"t":1763,"v":92},{"t":1767,"v":90},{"t":1770,"v":89},{"t":1773,"v":93},{"t":1777,"v":96},{"t":1780,"v":97.5},{"t":1783,"v":103},{"t":1785,"v":108},{"t":1788,"v":115},{"t":1790,"v":107},{"t":1792,"v":93},{"t":1794,"v":101.5},{"t":1797,"v":93},{"t":1799,"v":101.5},{"t":1802,"v":102},{"t":1804,"v":110},{"t":1806,"v":122.5},{"t":1809,"v":125},{"t":1812,"v":131.5},{"t":1814,"v":128},{"t":1816,"v":122.5},{"t":1818,"v":118},{"t":1819,"v":122},{"t":1821,"v":117},{"t":1823,"v":120},{"t":1825,"v":116},{"t":1826,"v":119.5},{"t":1828,"v":116},{"t":1829,"v":119},{"t":1831,"v":115},{"t":1833,"v":118},{"t":1835,"v":107},{"t":1836,"v":93},{"t":1840,"v":93},{"t":1842,"v":84},{"t":1844,"v":74},{"t":1848,"v":69.5},{"t":1850,"v":66.5},{"t":1853,"v":65},{"t":1857,"v":61},{"t":1860,"v":52},{"t":1863,"v":43.5},{"t":1865,"v":36},{"t":1868,"v":43.5},{"t":1870,"v":55},{"t":1872,"v":65.5},{"t":1875,"v":73},{"t":1877,"v":78.5},{"t":1880,"v":71},{"t":1884,"v":55},{"t":1886,"v":43.5},{"t":1888,"v":34.5},{"t":1890,"v":37.5},{"t":1892,"v":46.5},{"t":1895,"v":55},{"t":1897,"v":61},{"t":1899,"v":64},{"t":1902,"v":66.5},{"t":1904,"v":62},{"t":1907,"v":61},{"t":1909,"v":49},{"t":1912,"v":34.5},{"t":1914,"v":19.5},{"t":1916,"v":5},{"t":1918,"v":0.5},{"t":1920,"v":2},{"t":1922,"v":20},{"t":1924,"v":37.5},{"t":1926,"v":40.5},{"t":1929,"v":55},{"t":1931,"v":48},{"t":1934,"v":43.5},{"t":1938,"v":40.5},{"t":1941,"v":36},{"t":1945,"v":49},{"t":1948,"v":57},{"t":1951,"v":58},{"t":1955,"v":59.5},{"t":1958,"v":56.5},{"t":1962,"v":64},{"t":1965,"v":75.5},{"t":1968,"v":87},{"t":1972,"v":96},{"t":1975,"v":106},{"t":1978,"v":110},{"t":1980,"v":111},{"t":1982,"v":115},{"t":1985,"v":120},{"t":1987,"v":122},{"t":1989,"v":125},{"t":1990,"v":123},{"t":1992,"v":128.5},{"t":1994,"v":127},{"t":1995,"v":131},{"t":1997,"v":130},{"t":1999,"v":134},
{"t":2000,"v":133},{"t":2002,"v":137},{"t":2004,"v":133},{"t":2006,"v":141},{"t":2008,"v":140},{"t":2009,"v":144},{"t":2011,"v":142},{"t":2012,"v":146},{"t":2014,"v":143},{"t":2016,"v":147},{"t":2018,"v":144},{"t":2019,"v":148.5},{"t":2021,"v":145},{"t":2022,"v":149},{"t":2024,"v":146},{"t":2026,"v":150},{"t":2028,"v":147},{"t":2029,"v":151},{"t":2031,"v":148},{"t":2033,"v":152},{"t":2035,"v":150},{"t":2036,"v":154},{"t":2038,"v":152},{"t":2039,"v":156},{"t":2041,"v":154},{"t":2043,"v":157.5},{"t":2045,"v":155},{"t":2046,"v":159},{"t":2048,"v":157},{"t":2050,"v":162},{"t":2052,"v":159},{"t":2053,"v":163},{"t":2055,"v":159},{"t":2056,"v":164.5},{"t":2058,"v":160},{"t":2060,"v":163},{"t":2062,"v":158},{"t":2063,"v":163},{"t":2065,"v":160},{"t":2067,"v":164},{"t":2069,"v":158},{"t":2070,"v":162},{"t":2072,"v":157},{"t":2074,"v":163},{"t":2075,"v":161},{"t":2077,"v":164},{"t":2079,"v":158.5},{"t":2080,"v":162},{"t":2082,"v":159},{"t":2084,"v":163.5},{"t":2085,"v":158},{"t":2087,"v":162},{"t":2089,"v":160},{"t":2090,"v":164},{"t":2092,"v":159},{"t":2094,"v":162.5},{"t":2095,"v":158},{"t":2097,"v":163},{"t":2099,"v":160},{"t":2100,"v":162},{"t":2102,"v":158},{"t":2104,"v":164},{"t":2105,"v":161},{"t":2107,"v":162},{"t":2109,"v":157},{"t":2110,"v":158},{"t":2112,"v":154},{"t":2114,"v":155},{"t":2116,"v":152},{"t":2117,"v":154},{"t":2119,"v":150},{"t":2121,"v":151},{"t":2123,"v":145},{"t":2124,"v":146},{"t":2126,"v":141},{"t":2127,"v":143},{"t":2129,"v":137},{"t":2131,"v":138},{"t":2133,"v":133},{"t":2134,"v":135},{"t":2136,"v":130},{"t":2138,"v":133},{"t":2139,"v":129},{"t":2141,"v":131},{"t":2143,"v":129},{"t":2144,"v":122},{"t":2146,"v":112},{"t":2148,"v":108},{"t":2149,"v":113},{"t":2151,"v":113},{"t":2153,"v":117},{"t":2155,"v":114},{"t":2158,"v":118.5},{"t":2160,"v":116},{"t":2161,"v":120},{"t":2163,"v":117},{"t":2165,"v":121},{"t":2166,"v":118},{"t":2168,"v":122},{"t":2170,"v":119},{"t":2171,"v":124},{"t":2173,"v":120},{"t":2175,"v":125},{"t":2177,"v":119},{"t":2179,"v":124},{"t":2180,"v":121},{"t":2182,"v":126},{"t":2184,"v":119},{"t":2186,"v":123},{"t":2188,"v":124.5},{"t":2190,"v":120},{"t":2192,"v":125},{"t":2193,"v":121},{"t":2195,"v":126},{"t":2197,"v":122},{"t":2199,"v":125},{"t":2200,"v":121},{"t":2202,"v":127},{"t":2204,"v":124},{"t":2205,"v":128},{"t":2207,"v":125},{"t":2209,"v":130},{"t":2211,"v":127},{"t":2212,"v":132},{"t":2214,"v":129},{"t":2216,"v":133},{"t":2218,"v":130},{"t":2219,"v":135},{"t":2221,"v":132},{"t":2222,"v":136},{"t":2224,"v":132},{"t":2226,"v":136.5},{"t":2228,"v":133},{"t":2229,"v":135},{"t":2231,"v":132},{"t":2232,"v":137},{"t":2234,"v":133},{"t":2236,"v":135.5},{"t":2238,"v":132},{"t":2239,"v":136},{"t":2241,"v":131},{"t":2242,"v":137},{"t":2244,"v":142},{"t":2246,"v":146},{"t":2248,"v":145},{"t":2249,"v":151},{"t":2251,"v":146},{"t":2253,"v":153},{"t":2255,"v":148},{"t":2256,"v":152},{"t":2258,"v":148},{"t":2259,"v":154},{"t":2261,"v":150},{"t":2263,"v":153},{"t":2265,"v":151},{"t":2266,"v":155},{"t":2268,"v":152},{"t":2270,"v":155},{"t":2272,"v":148},{"t":2274,"v":138},{"t":2276,"v":137},{"t":2278,"v":135},{"t":2280,"v":133.5},{"t":2282,"v":131},{"t":2283,"v":133},{"t":2285,"v":129},{"t":2286,"v":131},{"t":2288,"v":128},{"t":2290,"v":130},{"t":2292,"v":127},{"t":2293,"v":130.5},{"t":2295,"v":127},{"t":2297,"v":129.5},{"t":2299,"v":126},{"t":2300,"v":130},{"t":2302,"v":126},{"t":2303,"v":130},{"t":2305,"v":127},{"t":2307,"v":129},{"t":2309,"v":125},{"t":2310,"v":130},{"t":2312,"v":127},{"t":2314,"v":129},{"t":2315,"v":116},{"t":2317,"v":114},{"t":2320,"v":109},{"t":2322,"v":99},{"t":2325,"v":92},{"t":2327,"v":89},{"t":2330,"v":89},{"t":2333,"v":86},{"t":2335,"v":84},{"t":2337,"v":90.5},{"t":2339,"v":87},{"t":2342,"v":81},{"t":2345,"v":80},{"t":2347,"v":83},{"t":2351,"v":86},{"t":2354,"v":90},{"t":2356,"v":91.5},{"t":2358,"v":73},{"t":2361,"v":77},{"t":2363,"v":81.5},{"t":2366,"v":82.5},{"t":2368,"v":70},{"t":2370,"v":60},{"t":2372,"v":63},{"t":2375,"v":69},{"t":2378,"v":67},{"t":2381,"v":66},{"t":2385,"v":63},{"t":2387,"v":61},{"t":2389,"v":48},{"t":2391,"v":23},{"t":2395,"v":20},{"t":2398,"v":7},{"t":2400,"v":1}
]
},
"layer": [
{
"data": {"name": "red"},
"mark": {"type": "line", "color": "#ff0000", "strokeWidth": 1.2},
"encoding": {
"x": {"field": "t", "type": "quantitative", "scale": {"domain": [0, 2500], "nice": false, "zero": false},
"axis": {"values": [0, 500, 1000, 1500, 2000, 2500], "format": "d", "title": "t (s)", "labelFontSize": 14.5, "titleFontSize": 15.5, "titleFontWeight": "normal", "labelColor": "#000", "titleColor": "#000", "labelFont": "Liberation Sans", "titleFont": "Liberation Sans", "grid": true, "gridColor": "#1a1a1a", "gridOpacity": 1, "gridWidth": 1, "domain": false, "ticks": false, "labelPadding": 7, "titlePadding": 4, "labelFlush": false}},
"y": {"field": "v", "type": "quantitative", "scale": {"domain": [0, 180], "nice": false},
"axis": {"values": [0, 20, 40, 60, 80, 100, 120, 140, 160, 180], "format": "d", "title": "v (km/h)", "labelFontSize": 14.5, "titleFontSize": 15.5, "titleFontWeight": "normal", "labelColor": "#000", "titleColor": "#000", "labelFont": "Liberation Sans", "titleFont": "Liberation Sans", "grid": true, "gridColor": "#1a1a1a", "gridOpacity": 1, "gridWidth": 1, "domain": false, "ticks": false, "labelPadding": 5, "titlePadding": 12}}
}
},
{
"data": {"name": "blue"},
"mark": {"type": "line", "color": "#0000ff", "strokeWidth": 1.2},
"encoding": {
"x": {"field": "t", "type": "quantitative"},
"y": {"field": "v", "type": "quantitative"}
}
}
]
}
